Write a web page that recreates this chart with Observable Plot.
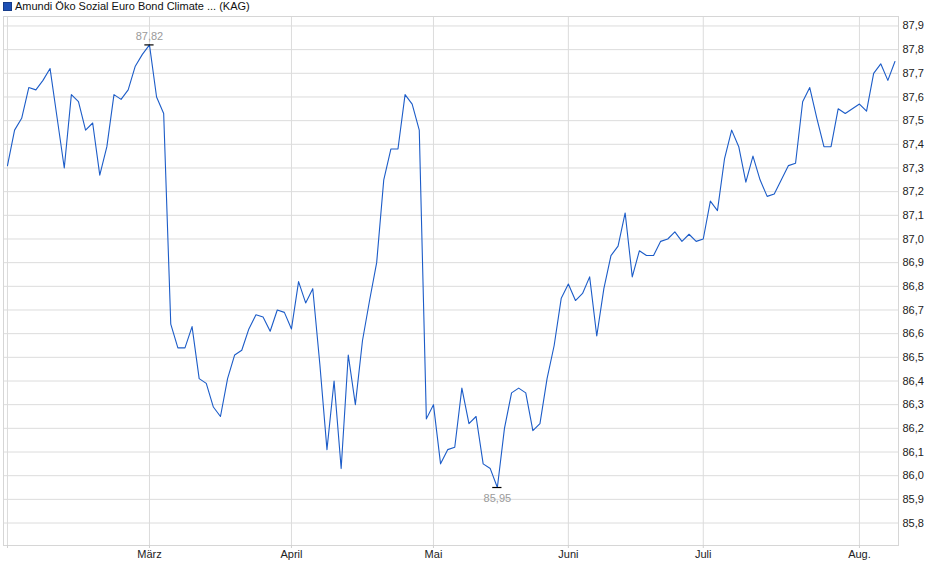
<!DOCTYPE html>
<html><head><meta charset="utf-8">
<script src="https://cdn.jsdelivr.net/npm/d3@7"></script>
<script src="https://cdn.jsdelivr.net/npm/@observablehq/plot@0.6"></script>
<style>
body{margin:0;background:#fff;font-family:"Liberation Sans",Arial,sans-serif;}
#legend{height:14px;position:relative;font-size:11px;color:#111;}
#legend .sw{position:absolute;left:3px;top:2px;width:7px;height:7px;background:#1d4fb4;border:1px solid #163c8a;}
#legend .tx{position:absolute;left:15px;top:0px;line-height:12px;white-space:nowrap;}
#chart svg{display:block;overflow:visible;}
</style></head><body>
<div id="legend"><span class="sw"></span><span class="tx">Amundi Öko Sozial Euro Bond Climate ... (KAG)</span></div>
<div id="chart"></div>
<script>
const seriesName = "Amundi Öko Sozial Euro Bond Climate ... (KAG)";
const values = [
  87.31, 87.46, 87.51, 87.64, 87.63, 87.67, 87.72, 87.51, 87.30, 87.61,
  87.58, 87.46, 87.49, 87.27, 87.39, 87.61, 87.59, 87.63, 87.73, 87.78,
  87.82, 87.60, 87.53, 86.64, 86.54, 86.54, 86.63, 86.41, 86.39, 86.29,
  86.25, 86.41, 86.51, 86.53, 86.62, 86.68, 86.67, 86.61, 86.70, 86.69,
  86.62, 86.82, 86.73, 86.79, 86.47, 86.11, 86.40, 86.03, 86.51, 86.30,
  86.57, 86.74, 86.90, 87.25, 87.38, 87.38, 87.61, 87.57, 87.46, 86.24,
  86.30, 86.05, 86.11, 86.12, 86.37, 86.22, 86.25, 86.05, 86.03, 85.95,
  86.20, 86.35, 86.37, 86.35, 86.19, 86.22, 86.41, 86.55, 86.75, 86.81,
  86.74, 86.77, 86.84, 86.59, 86.79, 86.93, 86.97, 87.11, 86.84, 86.95,
  86.93, 86.93, 86.99, 87.00, 87.03, 86.99, 87.02, 86.99, 87.00, 87.16,
  87.12, 87.34, 87.46, 87.39, 87.24, 87.35, 87.25, 87.18, 87.19, 87.25,
  87.31, 87.32, 87.58, 87.64, 87.51, 87.39, 87.39, 87.55, 87.53, 87.55,
  87.57, 87.54, 87.70, 87.74, 87.67, 87.75
];
const tickIdx = [0, 20, 40, 60, 79, 98, 120];
const tickLabels = ["", "März", "April", "Mai", "Juni", "Juli", "Aug."];
const yTicks = [85.8, 85.9, 86.0, 86.1, 86.2, 86.3, 86.4, 86.5, 86.6, 86.7, 86.8, 86.9,
                87.0, 87.1, 87.2, 87.3, 87.4, 87.5, 87.6, 87.7, 87.8, 87.9];

const data = values.map((v, i) => ({i, v}));
const iMax = d3.maxIndex(values), iMin = d3.minIndex(values);
const hi = [{i: iMax, v: values[iMax]}];
const lo = [{i: iMin, v: values[iMin]}];
const fmt = (d, k) => d.toFixed(k).replace(".", ",");
const labelOf = new Map(tickIdx.map((t, k) => [t, tickLabels[k]]));
const font = '"Liberation Sans", Arial, sans-serif';

const plot = Plot.plot({
  width: 940, height: 565,
  marginTop: 2, marginBottom: 34, marginLeft: 3, marginRight: 42,
  style: {fontFamily: font, fontSize: "11px", color: "#222", background: "#fff"},
  x: {type: "linear", domain: [-0.56, 125.5]},
  y: {domain: [85.705, 87.94]},
  marks: [
    Plot.gridY(yTicks, {stroke: "#dcdcdc", strokeOpacity: 1}),
    Plot.gridX(tickIdx, {stroke: "#dcdcdc", strokeOpacity: 1}),
    Plot.frame({stroke: "#d6d6d6"}),
    Plot.axisX(tickIdx, {tickSize: 3, tickPadding: 2, stroke: "#d0d0d0", fill: "#222",
      tickFormat: d => labelOf.get(d), label: null, fontSize: 11}),
    Plot.axisY(yTicks, {anchor: "right", tickSize: 0, tickPadding: 4, fill: "#222",
      tickFormat: d => fmt(d, 1), label: null, fontSize: 11}),
    Plot.line(data, {x: "i", y: "v", stroke: "#1c5cc8", strokeWidth: 1.1}),
    Plot.ruleY(hi.concat(lo), {y: "v", x1: d => d.i - 0.65, x2: d => d.i + 0.65, stroke: "#000", strokeWidth: 1.2}),
    Plot.text(hi, {x: "i", y: "v", text: d => fmt(d.v, 2), dy: -8, fill: "#9a9a9a", fontSize: 11}),
    Plot.text(lo, {x: "i", y: "v", text: d => fmt(d.v, 2), dy: 11, fill: "#9a9a9a", fontSize: 11})
  ]
});
document.getElementById("chart").appendChild(plot);
</script>
</body></html>
